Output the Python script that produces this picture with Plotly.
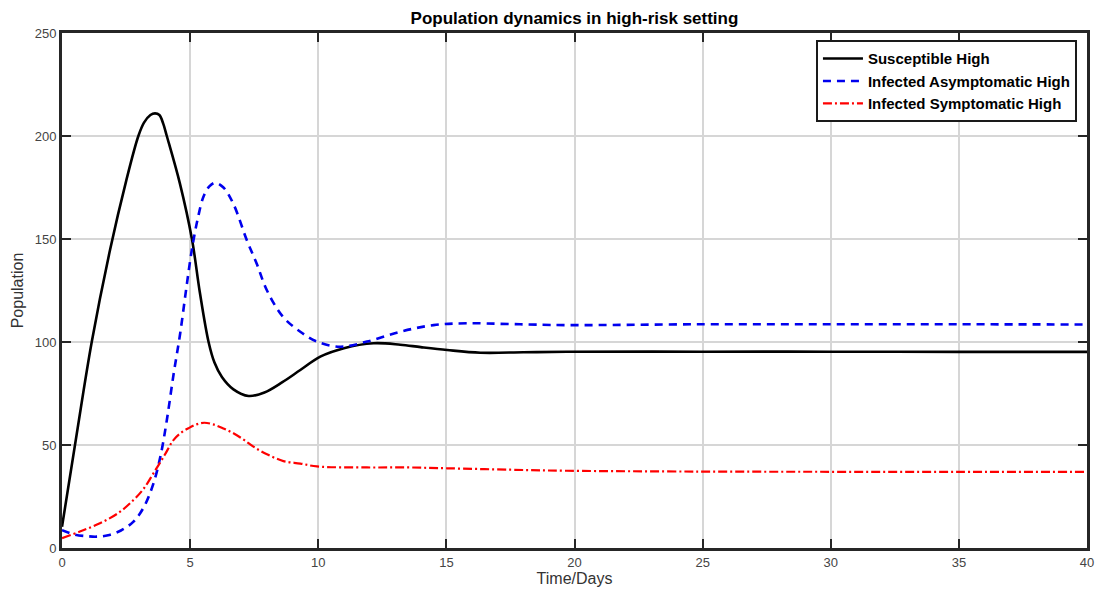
import plotly.graph_objects as go

# Susceptible High
t_s = [0, 0.57, 1.16, 1.88, 2.5, 2.98, 3.2, 3.45, 3.63, 3.8, 3.95, 4.09, 4.6, 5.07, 5.38, 5.72, 5.95,
       6.24, 6.69, 7.28, 7.9, 8.6, 9.3, 10.08, 11.0, 12.16, 13.2, 14.0, 15.03, 16.33, 18, 19.7, 25, 30, 35, 40]
v_s = [10.3, 55, 100, 145, 178, 200, 206.5, 210.2, 211, 210.2, 206, 200, 177, 150, 124, 100, 90,
       83, 77, 73.8, 75.5, 80.5, 86.4, 92.9, 97, 99.4, 98.7, 97.5, 96.1, 94.8, 95, 95.3, 95.3, 95.3, 95.2, 95.2]

# Infected Asymptomatic High
t_a = [0, 0.5, 1.0, 1.35, 1.8, 2.3, 2.79, 3.2, 3.57, 3.85, 4.09, 4.35, 4.61, 4.85, 5.07, 5.3, 5.52,
       5.75, 5.98, 6.3, 6.69, 7.21, 7.6, 8.0, 8.64, 9.3, 9.95, 10.86, 11.9, 13.2, 14.5, 15.8, 17.5,
       19.7, 24.9, 30, 35, 40]
v_a = [8.7, 6.5, 5.7, 5.5, 6.2, 8.5, 12.8, 20, 31.4, 45, 62, 84, 104, 126, 145, 160, 170.5,
       175.5, 177.3, 175, 167, 149.5, 138, 125, 112, 105, 100.2, 97.7, 100.2, 105, 108.2, 109.1, 108.7,
       108.2, 108.6, 108.6, 108.6, 108.5]

# Infected Symptomatic High
t_i = [0, 0.7, 1.48, 2.2, 2.79, 3.2, 3.57, 4.0, 4.35, 4.65, 4.93, 5.25, 5.55, 5.9, 6.3, 6.69, 7.1,
       7.47, 8.0, 8.64, 9.3, 9.95, 11.9, 13.5, 15.03, 17.5, 19.7, 24.9, 30, 35, 40]
v_i = [4.8, 8, 12, 17, 23.3, 29, 36.3, 45, 52.4, 56, 58.1, 60, 60.8, 60, 58, 55.7, 52.5,
       49.2, 45.5, 42.2, 41.0, 39.6, 39.1, 39.1, 38.7, 38.0, 37.5, 37.1, 37.0, 37.0, 37.0]

x_ticks = [0, 5, 10, 15, 20, 25, 30, 35, 40]
y_ticks = [0, 50, 100, 150, 200, 250]

fig = go.Figure()
fig.add_trace(go.Scatter(x=t_s, y=v_s, mode="lines", name="Susceptible High",
                         line=dict(color="black", width=2.6, shape="spline", smoothing=1.0)))
fig.add_trace(go.Scatter(x=t_a, y=v_a, mode="lines", name="Infected Asymptomatic High",
                         line=dict(color="#0000ee", width=2.6, dash="8px,6px", shape="spline", smoothing=1.0)))
fig.add_trace(go.Scatter(x=t_i, y=v_i, mode="lines", name="Infected Symptomatic High",
                         line=dict(color="#ff0000", width=2.2, dash="9px,3px,2px,3px", shape="spline", smoothing=1.0)))

axis_font = dict(family="Liberation Sans, Arial", size=13, color="#444444")
fig.update_layout(
    width=1099, height=593,
    margin=dict(l=62, r=12, t=33, b=45, autoexpand=False),
    paper_bgcolor="white", plot_bgcolor="white",
    title=dict(text="<b>Population dynamics in high-risk setting</b>", x=0.5, xanchor="center",
               xref="paper", y=0.97, yanchor="middle",
               font=dict(family="Liberation Sans, Arial", size=17, color="black")),
    showlegend=True,
    legend=dict(x=0.9902, xanchor="right", y=0.986, yanchor="top",
                bgcolor="white", bordercolor="#1a1a1a", borderwidth=2,
                font=dict(family="Liberation Sans, Arial", size=15, color="black", weight="bold"),
                tracegroupgap=0, itemwidth=40),
)
fig.update_xaxes(range=[0, 40], tickvals=x_ticks, ticktext=[str(v) for v in x_ticks],
                 showgrid=True, gridcolor="#d6d6d6", gridwidth=2, automargin=False,
                 showline=True, linecolor="#262626", linewidth=3, mirror="allticks",
                 ticks="inside", ticklen=9, tickwidth=2, tickcolor="#262626",
                 zeroline=False, tickfont=axis_font,
                 title=dict(text="Time/Days", font=dict(family="Liberation Sans, Arial", size=16, color="#333333"), standoff=2))
fig.update_yaxes(range=[0, 250], tickvals=y_ticks, ticktext=[str(v) for v in y_ticks],
                 showgrid=True, gridcolor="#d6d6d6", gridwidth=2, automargin=False,
                 showline=True, linecolor="#262626", linewidth=3, mirror="allticks",
                 ticks="inside", ticklen=9, tickwidth=2, tickcolor="#262626",
                 zeroline=False, tickfont=axis_font,
                 title=dict(text="Population", font=dict(family="Liberation Sans, Arial", size=16, color="#333333"), standoff=8))

fig.write_html("out.html", config={"displayModeBar": False},
               post_script="document.body.style.margin='0';document.body.style.padding='0';")
